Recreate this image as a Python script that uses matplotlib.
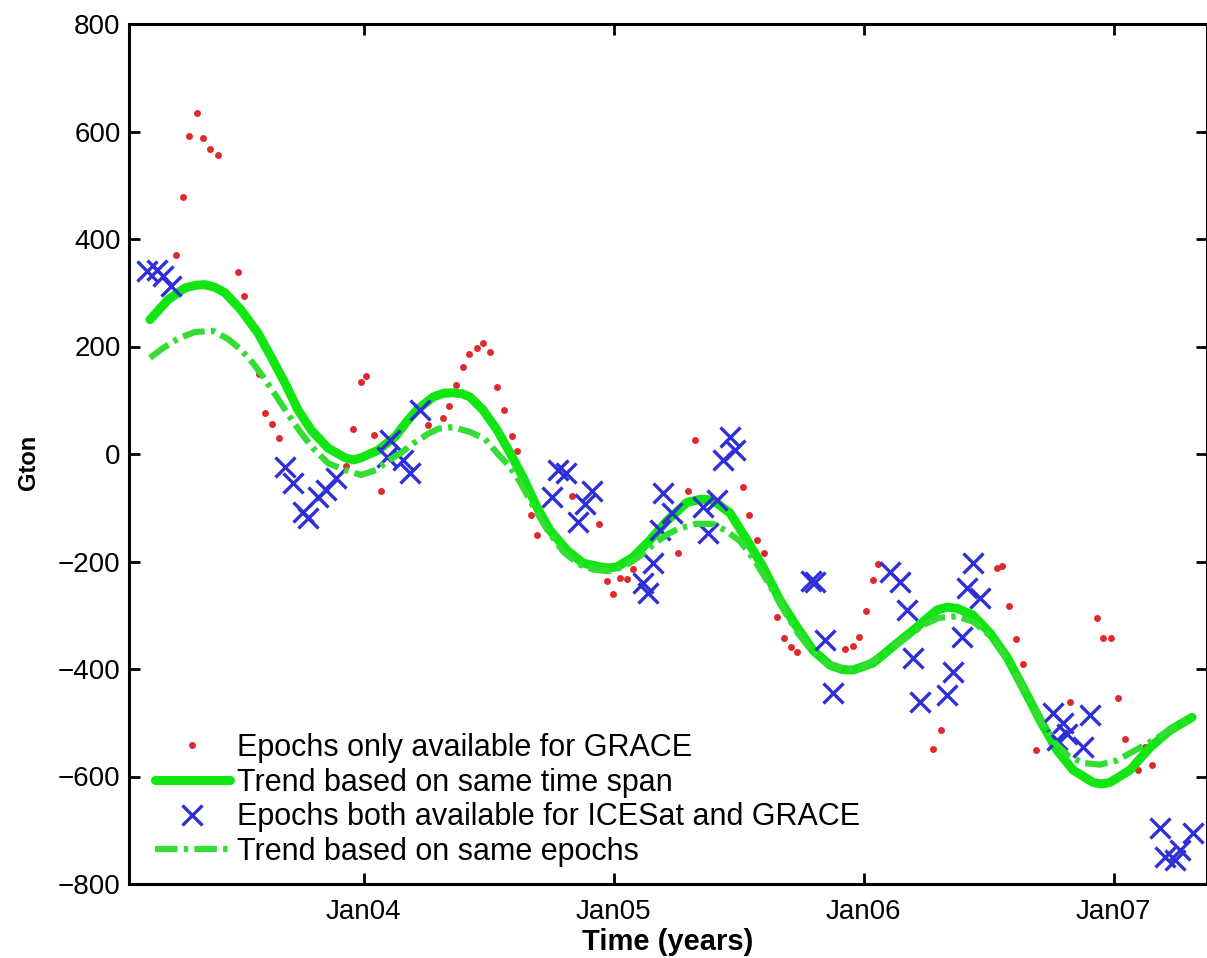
import numpy as np
import matplotlib
matplotlib.use("Agg")
import matplotlib.pyplot as plt

plt.rcParams["font.family"] = ["Liberation Sans", "DejaVu Sans"]

# GRACE-only epochs (decimal year, Gton)
grace_t = [2003.250, 2003.278, 2003.302, 2003.334, 2003.358, 2003.386, 2003.418,
           2003.498, 2003.522, 2003.582, 2003.606, 2003.634, 2003.662, 2003.930,
           2003.958, 2003.990, 2004.010, 2004.042, 2004.070, 2004.258, 2004.318,
           2004.342, 2004.370, 2004.398, 2004.422, 2004.454, 2004.478, 2004.506,
           2004.534, 2004.562, 2004.594, 2004.614, 2004.670, 2004.694, 2004.834,
           2004.942, 2004.974, 2004.998, 2005.026, 2005.054, 2005.078, 2005.258,
           2005.298, 2005.326, 2005.518, 2005.542, 2005.574, 2005.602, 2005.654,
           2005.682, 2005.710, 2005.734, 2005.926, 2005.958, 2005.982, 2006.010,
           2006.038, 2006.058, 2006.278, 2006.310, 2006.534, 2006.554, 2006.582,
           2006.610, 2006.638, 2006.690, 2006.826, 2006.934, 2006.958, 2006.990,
           2007.018, 2007.046, 2007.098, 2007.126, 2007.154]
grace_v = [371, 479, 592, 635, 588, 568, 557,
           339, 294, 149, 76, 56, 30, -22,
           47, 134, 145, 35, -69, 54, 67,
           89, 128, 162, 186, 197, 207, 190,
           125, 82, 34, 6, -114, -151, -78,
           -130, -237, -261, -231, -233, -214, -184,
           -69, 26, -61, -114, -160, -184, -303,
           -343, -359, -368, -363, -358, -341, -292,
           -235, -205, -549, -514, -212, -209, -283,
           -345, -391, -551, -462, -305, -343, -343,
           -454, -531, -588, -545, -579]

# epochs available for both ICESat and GRACE
both_t = [2003.134, 2003.174, 2003.198, 2003.230, 2003.686, 2003.718, 2003.758,
          2003.778, 2003.818, 2003.850, 2003.890, 2004.094, 2004.106, 2004.158,
          2004.186, 2004.226, 2004.754, 2004.778, 2004.810, 2004.858, 2004.886,
          2004.914, 2005.118, 2005.138, 2005.158, 2005.186, 2005.198, 2005.234,
          2005.358, 2005.378, 2005.414, 2005.438, 2005.466, 2005.486, 2005.790,
          2005.806, 2005.846, 2005.878, 2006.106, 2006.146, 2006.174, 2006.198,
          2006.226, 2006.334, 2006.358, 2006.394, 2006.414, 2006.438, 2006.466,
          2006.758, 2006.774, 2006.798, 2006.814, 2006.878, 2006.906, 2007.186,
          2007.206, 2007.246, 2007.266, 2007.318]
both_v = [341, 343, 331, 313, -24, -54, -108,
          -119, -80, -67, -45, -6, 26, -11,
          -35, 82, -80, -30, -35, -127, -93,
          -69, -240, -259, -203, -141, -73, -110,
          -98, -147, -86, -11, 32, 7, -236,
          -238, -346, -445, -220, -238, -290, -380,
          -462, -449, -406, -341, -250, -203, -268,
          -482, -533, -501, -520, -546, -486, -695,
          -750, -756, -737, -706]

# trend based on same time span
span_t = [2003.146, 2003.218, 2003.286, 2003.330, 2003.366, 2003.406, 2003.446,
          2003.510, 2003.578, 2003.630, 2003.686, 2003.738, 2003.790, 2003.858,
          2003.926, 2003.960, 2003.990, 2004.058, 2004.126, 2004.178, 2004.214,
          2004.278, 2004.320, 2004.358, 2004.395, 2004.426, 2004.478, 2004.534,
          2004.586, 2004.638, 2004.694, 2004.746, 2004.814, 2004.878, 2004.946,
          2004.980, 2005.014, 2005.078, 2005.146, 2005.214, 2005.294, 2005.350,
          2005.398, 2005.466, 2005.534, 2005.598, 2005.666, 2005.734, 2005.798,
          2005.866, 2005.915, 2005.958, 2006.038, 2006.134, 2006.214, 2006.294,
          2006.335, 2006.374, 2006.438, 2006.506, 2006.574, 2006.638, 2006.706,
          2006.774, 2006.838, 2006.918, 2006.952, 2006.986, 2007.066, 2007.146,
          2007.226, 2007.314]
span_v = [250, 287, 309, 314, 315, 310, 300,
          268, 225, 181, 132, 82, 45, 11,
          -7, -11, -7, 7, 32, 63, 82,
          106, 113, 114, 112, 106, 82, 45,
          2, -43, -99, -142, -179, -203, -210,
          -212, -210, -192, -160, -124, -90, -84,
          -86, -110, -160, -210, -272, -322, -365,
          -393, -401, -402, -389, -352, -322, -290,
          -285, -287, -300, -333, -378, -434, -495,
          -551, -588, -611, -614, -611, -588, -546,
          -514, -490]

# trend based on same epochs
epoch_t = [2003.146, 2003.198, 2003.260, 2003.326, 2003.398, 2003.458, 2003.510,
           2003.558, 2003.600, 2003.642, 2003.680, 2003.718, 2003.760, 2003.798,
           2003.858, 2003.926, 2003.990, 2004.050, 2004.100, 2004.150, 2004.200,
           2004.260, 2004.300, 2004.358, 2004.426, 2004.486, 2004.534, 2004.586,
           2004.626, 2004.680, 2004.740, 2004.800, 2004.860, 2004.920, 2004.980,
           2005.040, 2005.100, 2005.160, 2005.220, 2005.266, 2005.330, 2005.398,
           2005.450, 2005.506, 2005.560, 2005.620, 2005.680, 2005.740, 2005.800,
           2005.860, 2005.930, 2006.000, 2006.080, 2006.160, 2006.240, 2006.300,
           2006.370, 2006.440, 2006.510, 2006.580, 2006.640, 2006.700, 2006.760,
           2006.820, 2006.880, 2006.946, 2007.014, 2007.080, 2007.150, 2007.230,
           2007.314]
epoch_v = [179, 197, 215, 227, 229, 214, 194,
           169, 143, 114, 87, 60, 33, 11,
           -17, -30, -39, -30, -12, 2, 20,
           38, 47, 50, 41, 28, 2, -24,
           -52, -98, -145, -182, -205, -215, -218,
           -210, -192, -168, -148, -138, -130, -130,
           -143, -162, -195, -240, -290, -335, -370,
           -392, -402, -395, -372, -345, -318, -305,
           -302, -312, -340, -385, -437, -490, -535,
           -562, -575, -578, -570, -553, -535, -512,
           -490]

xticks = [2004, 2005, 2006, 2007]
xticklabels = ["Jan04", "Jan05", "Jan06", "Jan07"]
yticks = [-800, -600, -400, -200, 0, 200, 400, 600, 800]

fig = plt.figure(figsize=(12.07, 9.58), dpi=100)
ax = fig.add_axes([129 / 1207, 74 / 958, 1078 / 1207, 860 / 958])

ax.plot(grace_t, grace_v, ls="none", marker="o", ms=5, color="#dc2a2e",
        mec="none", label="Epochs only available for GRACE", zorder=2)
ax.plot(span_t, span_v, color="#12e612", lw=6.5, solid_capstyle="round",
        solid_joinstyle="round", label="Trend based on same time span", zorder=3)
ax.plot(both_t, both_v, ls="none", marker="x", ms=14, mew=2.4, color="#2f2fd8",
        label="Epochs both available for ICESat and GRACE", zorder=4)
ax.plot(epoch_t, epoch_v, color="#33dd33", lw=4.5, ls=(0, (3.6, 1.0, 0.7, 1.0)),
        label="Trend based on same epochs", zorder=5)

ax.set_xlim(2003.062, 2007.374)
ax.set_ylim(-800, 800)
ax.set_xticks(xticks)
ax.set_xticklabels(xticklabels)
ax.set_yticks(yticks)

for s in ax.spines.values():
    s.set_linewidth(2.2)
ax.tick_params(direction="in", length=8, width=2, labelsize=20,
               top=True, right=True)
ax.tick_params(axis="x", pad=11)
ax.tick_params(axis="y", pad=6)

ax.set_xlabel("Time (years)", fontsize=21, fontweight="bold", labelpad=2)
ax.set_ylabel("Gton", fontsize=17, fontweight="bold")
ax.yaxis.set_label_coords(-0.083, 0.49)

ax.legend(loc="lower left", bbox_to_anchor=(0.024, 0.02), frameon=False,
          fontsize=22, handlelength=2.45, handletextpad=0.25, labelspacing=0.15,
          borderpad=0, borderaxespad=0)

fig.savefig("out.png", dpi=100)
